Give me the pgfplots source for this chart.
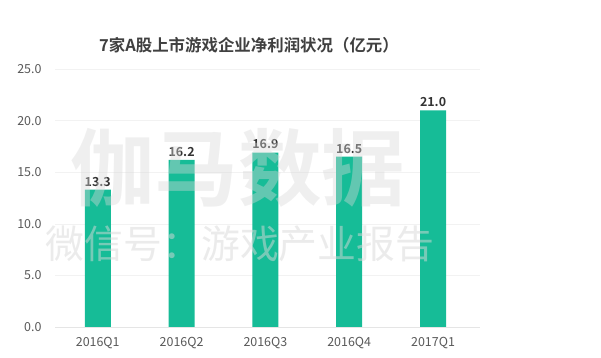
\documentclass[border=0pt]{standalone}
\usepackage{pgfplots}
\pgfplotsset{compat=1.18}
\usepackage{fontspec}
\setmainfont{Noto Sans CJK SC}
\newfontfamily\cjkbold{Noto Sans CJK SC Bold}
\definecolor{barc}{HTML}{16BC97}
\definecolor{tick}{HTML}{595959}
\definecolor{ttl}{HTML}{404040}
\definecolor{wm}{HTML}{D8D8D8}
\begin{document}
\begin{tikzpicture}
\path[use as bounding box] (0,0) rectangle (601bp,358bp);
\begin{axis}[
  at={(55bp,31bp)}, anchor=south west,
  width=425bp, height=258bp, scale only axis,
  xmin=-0.51, xmax=4.56, ymin=0, ymax=25,
  xtick={0,1,2,3,4},
  xticklabels={2016Q1,2016Q2,2016Q3,2016Q4,2017Q1},
  ytick={0,5,10,15,20,25},
  yticklabel style={/pgf/number format/fixed,/pgf/number format/fixed zerofill,/pgf/number format/precision=1},
  /pgf/number format/assume math mode=true,
  axis line style={draw=none},
  major tick length=0pt,
  ymajorgrids, grid style={draw=black!5, line width=0.6pt},
  tick label style={font=\fontsize{12.5}{13}\selectfont, text=tick},
  xticklabel style={yshift=-7bp},
  yticklabel style={xshift=-10bp},
  clip=false,
]
\addplot[ybar, bar width=26bp, fill=barc, draw=none,
  nodes near coords,
  nodes near coords style={font=\cjkbold\fontsize{12.5}{13}\selectfont, text=black!80,
    /pgf/number format/fixed, /pgf/number format/fixed zerofill, /pgf/number format/precision=1, /pgf/number format/assume math mode=true},
] coordinates {(0,13.3) (1,16.2) (2,16.9) (3,16.5) (4,21.0)};
\draw[black!10, line width=0.6pt] (axis cs:-0.51,0) -- (axis cs:4.56,0);
\end{axis}
\node[font=\cjkbold\fontsize{16.5}{17}\selectfont, text=ttl] at (249bp,313bp) {7家A股上市游戏企业净利润状况（亿元）};
\node[font=\cjkbold\fontsize{84}{84}\selectfont, text=wm, opacity=0.4] at (238bp,190bp) {伽马数据};
\node[font=\fontsize{39}{39}\selectfont, text=wm, opacity=0.5] at (240bp,114bp) {微信号：游戏产业报告};
\end{tikzpicture}
\end{document}
